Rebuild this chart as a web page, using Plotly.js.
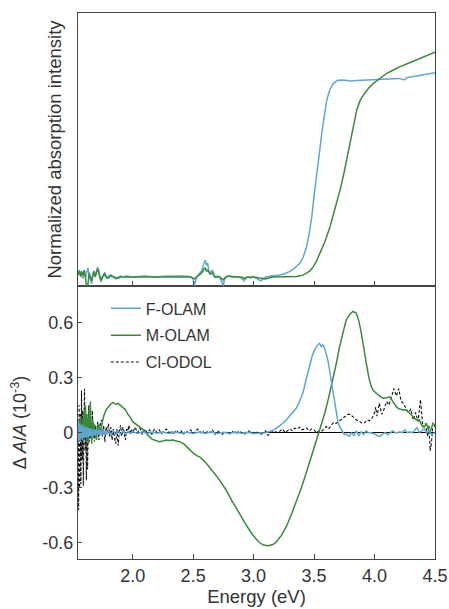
<!DOCTYPE html>
<html>
<head>
<meta charset="utf-8">
<script src="https://cdn.plot.ly/plotly-3.0.1.min.js"></script>
<style>html,body{margin:0;padding:0;background:#fff;}#chart{width:449px;height:609px;}</style>
</head>
<body>
<div id="chart"></div>
<script>
// ---------- Upper panel: normalized absorption ----------
const absF_x = [1.55,1.56,1.57,1.58,1.59,1.60,1.61,1.62,1.63,1.64,1.65,1.66,1.67,1.68,1.69,1.70,1.71,1.72,1.73,1.74,1.75,1.76,1.77,1.78,1.79,1.80,1.82,1.84,1.86,1.88,1.90,1.92,1.95,2.00,2.05,2.10,2.15,2.20,2.25,2.30,2.35,2.40,2.45,2.48,2.50,2.51,2.52,2.53,2.55,2.57,2.59,2.60,2.61,2.62,2.63,2.64,2.66,2.68,2.70,2.72,2.74,2.75,2.76,2.77,2.79,2.82,2.86,2.90,2.92,2.93,2.95,2.97,3.00,3.03,3.06,3.08,3.10,3.13,3.16,3.20,3.25,3.30,3.33,3.36,3.384,3.41,3.439,3.46,3.481,3.50,3.522,3.545,3.564,3.585,3.605,3.63,3.66,3.69,3.715,3.76,3.80,3.853,3.90,3.95,4.00,4.046,4.10,4.15,4.20,4.25,4.267,4.30,4.35,4.40,4.45,4.50];
const absF_y = [0.02,0.035,0.01,0.03,-0.01,0.02,0.0,0.03,0.045,0.01,-0.02,-0.035,0.0,0.02,0.005,0.03,0.05,0.035,-0.01,-0.025,0.0,0.015,0.02,0.0,-0.01,0.005,0.01,0.0,-0.01,0.0,0.005,0.0,0.005,0.0,0.003,0.005,0.002,0.0,0.004,0.005,0.003,0.005,0.004,0.0,-0.01,-0.045,-0.02,0.0,0.015,0.03,0.07,0.085,0.06,0.07,0.03,0.02,0.035,0.0,0.005,0.0,-0.03,-0.045,-0.01,0.0,0.005,0.0,0.002,-0.005,-0.02,-0.005,0.0,-0.005,0.0,-0.01,-0.02,-0.01,0.0,0.003,0.005,0.008,0.015,0.028,0.04,0.055,0.07,0.1,0.154,0.22,0.306,0.41,0.526,0.64,0.729,0.82,0.898,0.95,0.983,0.996,1.0,0.998,0.995,0.997,0.998,1.0,1.0,1.003,1.004,1.005,1.008,1.0,1.013,1.015,1.02,1.025,1.03,1.037];

const absM_x = [1.55,1.56,1.57,1.58,1.59,1.60,1.61,1.62,1.625,1.63,1.64,1.65,1.66,1.67,1.68,1.69,1.70,1.71,1.72,1.73,1.74,1.75,1.76,1.77,1.78,1.80,1.82,1.85,1.88,1.90,1.95,2.00,2.10,2.20,2.30,2.40,2.48,2.51,2.53,2.55,2.57,2.59,2.60,2.61,2.62,2.64,2.66,2.68,2.72,2.75,2.77,2.80,2.85,2.90,2.93,2.95,3.00,3.05,3.10,3.15,3.20,3.30,3.357,3.40,3.439,3.47,3.494,3.52,3.549,3.59,3.632,3.675,3.715,3.745,3.77,3.79,3.812,3.833,3.853,3.88,3.908,3.95,3.991,4.05,4.101,4.16,4.211,4.28,4.349,4.42,4.50];
const absM_y = [0.01,0.03,0.0,0.025,0.01,0.035,0.0,-0.06,-0.095,-0.04,0.02,0.0,-0.02,0.01,0.03,0.0,0.02,0.04,0.02,-0.005,-0.015,0.0,0.01,0.015,0.0,-0.005,0.005,0.0,-0.008,0.0,0.0,-0.003,0.0,0.0,-0.002,0.0,0.0,-0.01,0.0,0.01,0.02,0.04,0.045,0.03,0.035,0.015,0.02,0.0,0.0,-0.015,0.0,0.005,0.0,0.0,-0.01,0.0,0.0,-0.005,-0.01,0.0,0.0,0.0,0.002,0.008,0.019,0.033,0.052,0.08,0.12,0.18,0.255,0.345,0.442,0.52,0.594,0.665,0.729,0.79,0.848,0.895,0.924,0.958,0.983,1.01,1.034,1.052,1.068,1.085,1.102,1.12,1.141];

// ---------- Lower panel: ΔA/A (10^-3) ----------
const dF_x = [1.55,1.555,1.56,1.565,1.57,1.575,1.58,1.585,1.59,1.595,1.60,1.605,1.61,1.615,1.62,1.625,1.63,1.635,1.64,1.645,1.65,1.655,1.66,1.67,1.68,1.69,1.70,1.71,1.72,1.73,1.74,1.75,1.76,1.77,1.78,1.79,1.80,1.82,1.84,1.86,1.88,1.90,1.92,1.94,1.96,1.98,2.00,2.04,2.08,2.12,2.16,2.20,2.25,2.30,2.35,2.40,2.45,2.50,2.55,2.60,2.65,2.70,2.75,2.80,2.85,2.90,2.95,3.00,3.05,3.10,3.15,3.187,3.23,3.27,3.31,3.352,3.38,3.407,3.435,3.462,3.485,3.504,3.525,3.545,3.56,3.573,3.59,3.614,3.635,3.656,3.67,3.683,3.697,3.711,3.73,3.75,3.766,3.79,3.81,3.83,3.85,3.87,3.89,3.91,3.93,3.95,3.97,3.99,4.01,4.03,4.05,4.07,4.09,4.11,4.13,4.15,4.17,4.19,4.21,4.23,4.25,4.27,4.29,4.31,4.33,4.35,4.37,4.39,4.41,4.43,4.45,4.47,4.50];
const dF_y = [0.06,-0.04,0.05,-0.05,0.04,-0.03,0.045,-0.04,0.03,-0.03,0.04,-0.025,0.03,-0.03,0.025,-0.02,0.03,-0.025,0.02,-0.02,0.025,-0.02,0.02,-0.02,0.02,-0.015,0.02,-0.015,0.015,-0.015,0.015,-0.01,0.015,-0.012,0.012,-0.01,0.012,-0.01,0.01,-0.008,0.01,-0.008,0.008,-0.006,0.008,-0.005,0.006,-0.004,0.005,-0.004,0.004,-0.003,0.004,-0.004,0.003,-0.003,0.004,-0.004,0.003,-0.003,0.003,-0.004,0.002,-0.004,0.003,-0.003,0.002,-0.004,-0.002,0.0,0.01,0.024,0.045,0.069,0.1,0.133,0.17,0.215,0.29,0.36,0.42,0.451,0.475,0.488,0.47,0.479,0.455,0.397,0.31,0.233,0.16,0.106,0.06,0.033,0.01,-0.01,-0.007,-0.02,0.0,-0.015,0.01,-0.015,0.005,-0.01,0.01,0.0,0.0,-0.005,-0.01,-0.02,-0.02,-0.005,0.0,-0.01,0.0,0.01,0.0,0.0,0.005,0.0,0.015,0.0,0.005,0.0,0.01,0.03,0.0,0.01,0.02,0.0,0.01,-0.01,0.0];

const dM_x = [1.55,1.555,1.56,1.565,1.57,1.575,1.58,1.585,1.59,1.595,1.60,1.605,1.61,1.615,1.62,1.625,1.63,1.635,1.64,1.645,1.65,1.655,1.66,1.665,1.67,1.675,1.68,1.69,1.70,1.71,1.72,1.73,1.74,1.75,1.76,1.78,1.80,1.82,1.84,1.86,1.88,1.90,1.92,1.94,1.96,1.98,2.00,2.02,2.04,2.06,2.08,2.10,2.12,2.14,2.16,2.18,2.20,2.22,2.25,2.28,2.30,2.33,2.36,2.39,2.42,2.45,2.47,2.50,2.53,2.56,2.60,2.64,2.68,2.72,2.77,2.82,2.88,2.94,2.99,3.04,3.08,3.12,3.16,3.19,3.23,3.27,3.31,3.35,3.39,3.435,3.48,3.52,3.555,3.59,3.62,3.656,3.685,3.711,3.74,3.766,3.795,3.821,3.849,3.87,3.891,3.91,3.932,3.953,3.973,3.99,4.015,4.04,4.07,4.10,4.125,4.15,4.18,4.20,4.235,4.26,4.29,4.32,4.346,4.37,4.39,4.41,4.43,4.456,4.47,4.483,4.50];
const dM_y = [0.03,-0.05,0.07,-0.02,0.09,0.0,0.05,-0.03,0.08,0.02,0.12,-0.02,0.15,0.0,0.1,-0.04,0.08,-0.06,0.12,0.03,0.17,0.05,-0.05,0.04,0.07,-0.02,0.05,0.0,-0.04,0.02,0.05,0.0,0.03,0.06,0.09,0.124,0.14,0.157,0.165,0.155,0.16,0.15,0.14,0.125,0.1,0.085,0.06,0.05,0.045,0.03,0.02,0.01,-0.01,-0.022,-0.035,-0.04,-0.045,-0.049,-0.045,-0.04,-0.042,-0.04,-0.045,-0.05,-0.06,-0.08,-0.094,-0.11,-0.125,-0.135,-0.16,-0.19,-0.225,-0.26,-0.31,-0.37,-0.44,-0.505,-0.555,-0.595,-0.613,-0.617,-0.61,-0.595,-0.56,-0.513,-0.45,-0.385,-0.31,-0.22,-0.13,-0.04,0.035,0.11,0.19,0.288,0.38,0.469,0.555,0.615,0.645,0.661,0.652,0.61,0.543,0.46,0.379,0.3,0.252,0.23,0.215,0.2,0.188,0.19,0.197,0.17,0.142,0.13,0.124,0.125,0.106,0.09,0.069,0.07,0.04,0.03,0.05,-0.004,0.02,0.051,0.04];

const dC_x = [1.55,1.553,1.557,1.562,1.567,1.572,1.577,1.582,1.587,1.592,1.597,1.602,1.607,1.612,1.617,1.622,1.627,1.632,1.637,1.642,1.647,1.652,1.657,1.662,1.667,1.672,1.677,1.682,1.69,1.70,1.71,1.72,1.73,1.74,1.75,1.76,1.77,1.78,1.79,1.80,1.81,1.82,1.83,1.84,1.85,1.86,1.87,1.88,1.89,1.90,1.91,1.92,1.93,1.94,1.95,1.96,1.97,1.98,1.99,2.00,2.02,2.04,2.06,2.08,2.10,2.12,2.14,2.16,2.18,2.20,2.22,2.24,2.26,2.28,2.30,2.32,2.34,2.36,2.38,2.40,2.42,2.44,2.46,2.48,2.50,2.52,2.54,2.56,2.58,2.60,2.62,2.64,2.66,2.68,2.70,2.72,2.74,2.76,2.78,2.80,2.82,2.84,2.86,2.88,2.90,2.92,2.94,2.96,2.98,3.00,3.02,3.04,3.06,3.08,3.10,3.12,3.14,3.16,3.18,3.20,3.22,3.24,3.26,3.28,3.30,3.32,3.34,3.36,3.38,3.40,3.42,3.44,3.46,3.48,3.50,3.52,3.54,3.56,3.58,3.60,3.62,3.64,3.66,3.68,3.70,3.72,3.74,3.76,3.78,3.80,3.82,3.84,3.86,3.88,3.90,3.92,3.94,3.96,3.98,4.00,4.01,4.02,4.04,4.06,4.08,4.10,4.12,4.14,4.16,4.18,4.20,4.22,4.24,4.26,4.28,4.30,4.32,4.34,4.36,4.38,4.39,4.40,4.42,4.44,4.45,4.46,4.47,4.48,4.50];
const dC_y = [0.0,-0.42,0.15,-0.3,0.1,-0.28,0.23,-0.15,0.12,-0.29,0.05,0.24,-0.1,0.08,-0.26,0.1,-0.2,0.05,0.15,-0.05,0.1,-0.03,0.06,-0.06,0.12,-0.02,0.05,-0.05,0.04,-0.03,0.06,-0.04,0.02,0.07,-0.02,0.04,-0.05,0.03,0.0,0.05,-0.02,0.03,-0.04,0.02,-0.03,-0.06,0.02,-0.07,0.01,0.04,-0.02,0.03,0.0,-0.04,0.02,0.01,0.04,-0.01,0.02,0.0,0.03,0.0,0.025,-0.01,0.02,0.0,0.015,-0.01,0.02,0.0,0.015,-0.005,0.01,0.02,0.0,0.01,-0.01,0.015,0.0,0.01,-0.01,0.01,0.0,0.015,-0.005,0.01,0.02,0.0,0.01,-0.01,0.01,0.0,0.015,-0.01,0.01,0.0,-0.01,0.005,0.0,-0.01,0.01,0.0,-0.005,0.01,0.0,-0.01,0.0,0.01,0.0,-0.005,0.005,0.0,-0.01,0.0,0.01,-0.015,0.0,0.01,0.005,0.0,0.01,0.02,0.0,0.01,0.02,0.01,0.025,0.02,0.03,0.015,0.02,0.025,0.01,0.02,0.015,0.0,0.01,0.005,0.02,0.033,0.02,0.04,0.055,0.05,0.06,0.075,0.08,0.09,0.1,0.1,0.085,0.075,0.065,0.06,0.05,0.055,0.07,0.065,0.08,0.11,0.14,0.09,0.16,0.1,0.13,0.17,0.15,0.2,0.24,0.2,0.24,0.17,0.16,0.13,0.11,0.13,0.07,0.11,0.06,0.18,0.1,0.03,0.05,-0.02,0.04,-0.1,-0.06,0.02,0.04];

// Axis tick labels
const xTickVals = [2.0,2.5,3.0,3.5,4.0,4.5];
const xTickText = ['2.0','2.5','3.0','3.5','4.0','4.5'];
const yTickVals = [0.6,0.3,0,-0.3,-0.6];
const yTickText = ['0.6','0.3','0','-0.3','-0.6'];

const BLUE = '#5ca6d0';
const GREEN = '#3a8a3a';
const TXT = '#333333';
const AX = '#444444';

const traces = [
  {x: absF_x, y: absF_y, xaxis: 'x2', yaxis: 'y2', mode: 'lines', line: {color: BLUE, width: 1.5}, showlegend: false, hoverinfo: 'skip'},
  {x: absM_x, y: absM_y, xaxis: 'x2', yaxis: 'y2', mode: 'lines', line: {color: GREEN, width: 1.5}, showlegend: false, hoverinfo: 'skip'},
  {x: dC_x, y: dC_y, xaxis: 'x', yaxis: 'y', mode: 'lines', name: 'Cl-ODOL', legendgroup: 'c', legendrank: 3, line: {color: '#111111', width: 1.1, dash: '3px,2px'}},
  {x: dM_x, y: dM_y, xaxis: 'x', yaxis: 'y', mode: 'lines', name: 'M-OLAM', legendgroup: 'm', legendrank: 2, line: {color: GREEN, width: 1.5}},
  {x: dF_x, y: dF_y, xaxis: 'x', yaxis: 'y', mode: 'lines', name: 'F-OLAM', legendgroup: 'f', legendrank: 1, line: {color: BLUE, width: 1.5}}
];

const layout = {
  width: 449, height: 609,
  margin: {l: 78, r: 14, t: 13, b: 50},
  paper_bgcolor: '#ffffff', plot_bgcolor: '#ffffff',
  font: {family: 'Liberation Sans, Arial, sans-serif', size: 18, color: TXT},
  showlegend: true,
  legend: {x: 0.078, y: 0.49, xanchor: 'left', yanchor: 'top', bgcolor: 'rgba(0,0,0,0)', font: {size: 16, color: TXT}, tracegroupgap: 3},
  xaxis: {
    domain: [0, 1], anchor: 'y', range: [1.548, 4.5],
    tickvals: xTickVals, ticktext: xTickText,
    ticks: 'inside', ticklen: 5, tickcolor: AX, tickwidth: 1,
    showline: true, linecolor: AX, linewidth: 1.2, mirror: true,
    showgrid: false, zeroline: false,
    tickfont: {size: 18, color: TXT},
    title: {text: 'Energy (eV)', font: {size: 18.5, color: TXT}, standoff: 5}
  },
  yaxis: {
    domain: [0, 0.5], anchor: 'x', range: [-0.689, 0.80],
    tickvals: yTickVals, ticktext: yTickText,
    ticks: 'inside', ticklen: 4, tickcolor: AX,
    showline: true, linecolor: AX, linewidth: 1.2, mirror: true,
    showgrid: false, zeroline: true, zerolinecolor: '#000000', zerolinewidth: 1,
    tickfont: {size: 18, color: TXT},
    title: {text: 'Δ <i>A</i>/<i>A</i> (10<sup>-3</sup>)', font: {size: 18, color: TXT}, standoff: 10}
  },
  xaxis2: {
    domain: [0, 1], anchor: 'y2', range: [1.548, 4.5], matches: 'x',
    tickvals: xTickVals, showticklabels: false,
    ticks: 'inside', ticklen: 5, tickcolor: AX,
    showline: true, linecolor: AX, linewidth: 1.2, mirror: true,
    showgrid: false, zeroline: false
  },
  yaxis2: {
    domain: [0.5, 1], anchor: 'x2', range: [-0.046, 1.34],
    showticklabels: false, ticks: '',
    showline: true, linecolor: AX, linewidth: 1.2, mirror: true,
    showgrid: false, zeroline: false,
    title: {text: 'Normalized absorption intensity', font: {size: 18.5, color: TXT}, standoff: 10}
  }
};

Plotly.newPlot('chart', traces, layout, {staticPlot: true, displayModeBar: false});
</script>
</body>
</html>
